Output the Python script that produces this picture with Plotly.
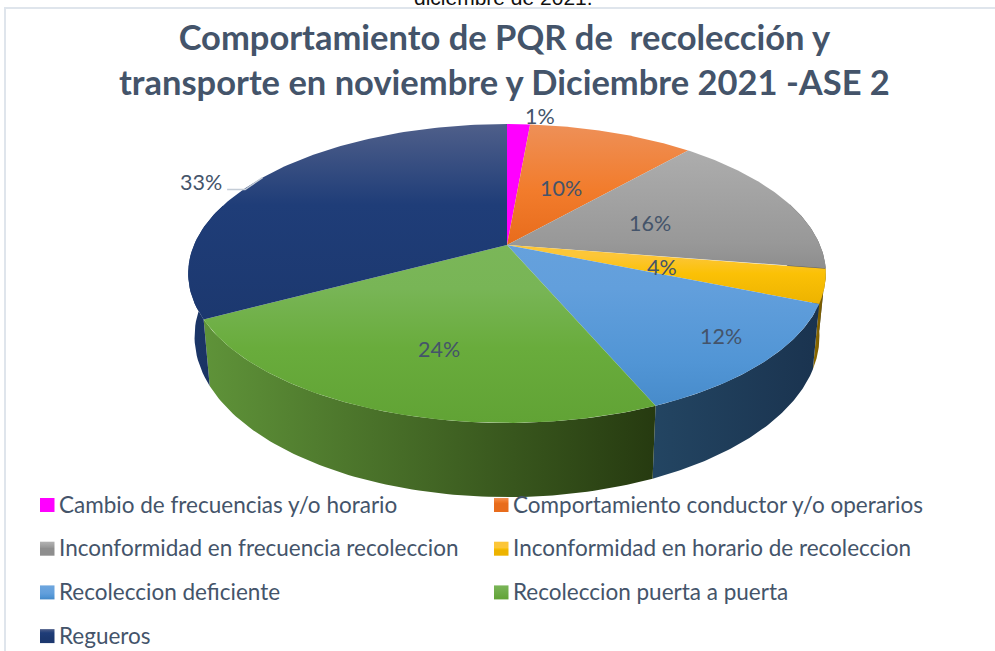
import numpy as np
import plotly.graph_objects as go

TITLE = "Comportamiento de PQR de\u00a0 recolección y<br>transporte en noviembre y Diciembre 2021 -ASE 2"
CUT_TEXT = "diciembre de 2021."
categories = ["Cambio de frecuencias y/o horario", "Comportamiento conductor y/o operarios",
              "Inconformidad en frecuencia recoleccion", "Inconformidad en horario de recoleccion",
              "Recoleccion deficiente", "Recoleccion puerta a puerta", "Regueros"]
shares = [1.4, 10.1, 16.0, 3.7, 12.4, 23.6, 32.8]

TXT = "#44546a"
top_colors = [
    [[0, "#ff00ff"], [1, "#ff00ff"]],
    [[0, "#ee9058"], [0.22, "#f27c2c"], [0.4, "#e86c1c"], [1, "#e86c1c"]],
    [[0, "#b0b0b0"], [0.09, "#adadad"], [0.4, "#989898"], [0.48, "#8e8e8e"], [1, "#8e8e8e"]],
    [[0, "#fcc638"], [0.44, "#fcc638"], [0.5, "#fbc106"], [0.6, "#edb300"], [1, "#edb300"]],
    [[0, "#6ea6de"], [0.55, "#629fdc"], [0.8, "#5195d5"], [1, "#4387c6"]],
    [[0, "#82bb5f"], [0.55, "#78b556"], [0.75, "#69ac3c"], [1, "#61a335"]],
    [[0, "#4f5f8a"], [0.27, "#1f3d78"], [0.65, "#1c386f"], [1, "#1c386f"]],
]
wall_colors = [
    ["#a000a0", "#a000a0"], ["#8a3d10", "#8a3d10"], ["#5e5e5e", "#5e5e5e"],
    ["#8f6c00", "#6b5200"], ["#234562", "#1a334f"], ["#5f9339", "#263a10"], ["#1b3668", "#1a3160"],
]
label_radius = [1.07, 0.47, 0.5, 0.5, 0.85, 0.62, 1.25]
label_nudge = [(21, -1), (0, 0), (0, 2), (0, 2), (0, -6), (5, 9), (-7, 19)]

# projection of the unit disc onto the page
CX, CY, A, B, K = 507, 245, 313, 144, 0.1906
CY2, A2, B2 = 306, 0.98 * 313, 154.7


def proj(ang, r=1.0, cy=CY, a=A, b=B):
    u, v = r * np.sin(ang), r * np.cos(ang)
    d = 1 + K * v
    return CX + a * u / d, cy - b * v / d


edges = np.cumsum([0] + shares) / sum(shares) * 2 * np.pi
fig = go.Figure()


def poly(x, y, scale, orient, start, stop):
    fig.add_trace(go.Scatter(
        x=list(x), y=list(y), mode="lines", fill="toself", line=dict(width=0),
        fillgradient=dict(type=orient, colorscale=scale, start=start, stop=stop),
        hoverinfo="skip", showlegend=False))


# side walls (the back part is hidden by the top faces)
for s in range(len(shares)):
    a = np.linspace(edges[s], edges[s + 1], 80)
    a = a[np.cos(a) < 0.3]
    if len(a) < 2:
        continue
    x1, y1 = proj(a)
    x2, y2 = proj(a, cy=CY2, a=A2, b=B2)
    px = np.r_[x1, x2[::-1]]
    py = np.r_[y1, y2[::-1]]
    c = wall_colors[s]
    poly(px, py, [[0, c[0]], [1, c[1]]], "horizontal", px.min(), px.max())

# top faces
for s in range(len(shares)):
    a = np.linspace(edges[s], edges[s + 1], 120)
    x, y = proj(a)
    poly(np.r_[CX, x, CX], np.r_[CY, y, CY], top_colors[s], "vertical", 124, 423)

# percentage labels
anns = []
for s, val in enumerate(shares):
    mid = (edges[s] + edges[s + 1]) / 2
    x, y = proj(mid, label_radius[s])
    x += label_nudge[s][0]
    y += label_nudge[s][1]
    anns.append(dict(x=x, y=y, text=f"{val / sum(shares) * 100:.0f}%", showarrow=False,
                     font=dict(family="Lato", size=21.5, color=TXT)))
    if s == len(shares) - 1:
        ex, ey = proj(mid)
        fig.add_trace(go.Scatter(x=[x + 26, x + 44, ex], y=[y + 8, y + 8, ey], mode="lines",
                                 line=dict(color="#c4ccd6", width=1.5), hoverinfo="skip", showlegend=False))

# legend
for i, name in enumerate(categories):
    col, row = i % 2, i // 2
    lx = 40 + col * 454
    ly = 505 + row * 43.7
    sx = [lx, lx + 14.5, lx + 14.5, lx, lx]
    sy = [ly - 7, ly - 7, ly + 7, ly + 7, ly - 7]
    poly(sx, sy, top_colors[i] if i != 5 else [[0, "#7ab558"], [1, "#61a335"]], "vertical", ly - 7, ly + 7)
    anns.append(dict(x=lx + 17, y=ly - 1, text=name, showarrow=False, xanchor="left",
                     font=dict(family="Lato", size=22.5, color=TXT)))

anns.append(dict(x=504, y=59, text=TITLE, showarrow=False, align="center", yanchor="middle",
                 font=dict(family="Lato", size=34.5, color=TXT, weight="bold")))
anns.append(dict(x=503, y=0.5, yshift=3, text=CUT_TEXT, showarrow=False,
                 font=dict(family="Liberation Sans", size=21, color="#111111")))

frame = dict(type="path", path="M 5 651 L 5 8 L 995 8", line=dict(color="#dfe5ec", width=2))
fig.update_layout(
    width=995, height=651, margin=dict(l=0, r=0, t=0, b=0), autosize=False,
    paper_bgcolor="white", plot_bgcolor="white", annotations=anns, shapes=[frame],
    xaxis=dict(range=[0, 995], visible=False, fixedrange=True),
    yaxis=dict(range=[651, 0], visible=False, fixedrange=True),
)
fig.write_html("out.html", config=dict(displayModeBar=False),
               post_script="document.body.style.margin='0';document.body.style.overflow='hidden';")
